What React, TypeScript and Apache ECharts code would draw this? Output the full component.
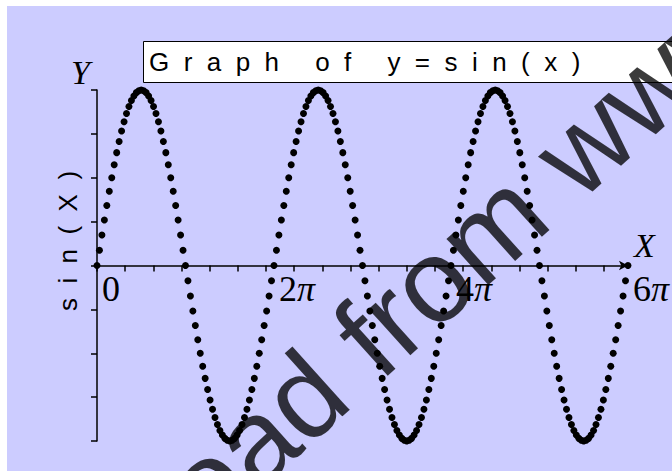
import React, { useEffect, useRef } from 'react';
import * as echarts from 'echarts';

// Sampling step of the plotted points, in degrees
const STEP_DEG = 5;

// y = sin(x), one point every 5 degrees from 0 to 6π
const yValues = [
  0, 0.087, 0.174, 0.259, 0.342, 0.423, 0.5, 0.574, 0.643, 0.707, 0.766, 0.819, 0.866, 0.906, 0.94, 0.966, 0.985, 0.996,
  1, 0.996, 0.985, 0.966, 0.94, 0.906, 0.866, 0.819, 0.766, 0.707, 0.643, 0.574, 0.5, 0.423, 0.342, 0.259, 0.174, 0.087,
  0, -0.087, -0.174, -0.259, -0.342, -0.423, -0.5, -0.574, -0.643, -0.707, -0.766, -0.819, -0.866, -0.906, -0.94, -0.966, -0.985, -0.996,
  -1, -0.996, -0.985, -0.966, -0.94, -0.906, -0.866, -0.819, -0.766, -0.707, -0.643, -0.574, -0.5, -0.423, -0.342, -0.259, -0.174, -0.087,
  0, 0.087, 0.174, 0.259, 0.342, 0.423, 0.5, 0.574, 0.643, 0.707, 0.766, 0.819, 0.866, 0.906, 0.94, 0.966, 0.985, 0.996,
  1, 0.996, 0.985, 0.966, 0.94, 0.906, 0.866, 0.819, 0.766, 0.707, 0.643, 0.574, 0.5, 0.423, 0.342, 0.259, 0.174, 0.087,
  0, -0.087, -0.174, -0.259, -0.342, -0.423, -0.5, -0.574, -0.643, -0.707, -0.766, -0.819, -0.866, -0.906, -0.94, -0.966, -0.985, -0.996,
  -1, -0.996, -0.985, -0.966, -0.94, -0.906, -0.866, -0.819, -0.766, -0.707, -0.643, -0.574, -0.5, -0.423, -0.342, -0.259, -0.174, -0.087,
  0, 0.087, 0.174, 0.259, 0.342, 0.423, 0.5, 0.574, 0.643, 0.707, 0.766, 0.819, 0.866, 0.906, 0.94, 0.966, 0.985, 0.996,
  1, 0.996, 0.985, 0.966, 0.94, 0.906, 0.866, 0.819, 0.766, 0.707, 0.643, 0.574, 0.5, 0.423, 0.342, 0.259, 0.174, 0.087,
  0, -0.087, -0.174, -0.259, -0.342, -0.423, -0.5, -0.574, -0.643, -0.707, -0.766, -0.819, -0.866, -0.906, -0.94, -0.966, -0.985, -0.996,
  -1, -0.996, -0.985, -0.966, -0.94, -0.906, -0.866, -0.819, -0.766, -0.707, -0.643, -0.574, -0.5, -0.423, -0.342, -0.259, -0.174, -0.087,
  0,
];

// x-axis ticks: every whole radian
const xTickValues = [0, 1, 2, 3, 4, 5, 6, 7, 8, 9, 10, 11, 12, 13, 14, 15, 16, 17, 18];
// x-axis labels: multiples of π
const xLabelMultiples = [0, 2, 4, 6];
const xLabelTexts = ['0', '2π', '4π', '6π'];
const X_MAX = 6 * Math.PI;
const Y_MIN = -1;
const Y_MAX = 1;

const NB = '\u00a0';
const spaced = (letters: string[], gap: number) => letters.join(NB.repeat(gap));

const titleText =
  spaced(['G', 'r', 'a', 'p', 'h'], 2) + NB.repeat(5) + spaced(['o', 'f'], 2) + NB.repeat(5) +
  spaced(['y', '=', 's', 'i', 'n', '(', 'x', ')'], 2);
const yNameText = spaced(['s', 'i', 'n'], 2) + NB.repeat(2) + spaced(['(', 'X', ')'], 2);
const watermarkText = 'Download from www.';

const SERIF = '"Liberation Serif", "DejaVu Serif", serif';
const SANS = '"Liberation Sans", Arial, sans-serif';

const W = 665;
const H = 465;
const GRID = { left: 90, right: 32, top: 84, bottom: 30 };

export default function App() {
  const ref = useRef<HTMLDivElement>(null);

  useEffect(() => {
    if (!ref.current) return;
    const chart = echarts.init(ref.current, undefined, { renderer: 'svg' });
    const data = yValues.map((y, i) => [(i * STEP_DEG * Math.PI) / 180, y]);
    const labelValues = xLabelMultiples.map((k) => k * Math.PI);
    // distance between the bottom of the grid and the y = 0 line
    const gridH = H - GRID.top - GRID.bottom;
    const zeroOffset = -gridH * ((0 - Y_MIN) / (Y_MAX - Y_MIN));

    const ang = (42 * Math.PI) / 180;
    const wmFont = 118;
    const offset = 3.612 * wmFont; // from text start to the centre of "a" in "Download"
    const aCx = 248;
    const aCy = 434;
    const wmX = aCx - offset * Math.cos(ang);
    const wmY = aCy + offset * Math.sin(ang);

    chart.setOption({
      animation: false,
      backgroundColor: '#ccccff',
      grid: GRID,
      xAxis: [
        {
          type: 'value',
          min: 0,
          max: X_MAX,
          interval: 1,
          position: 'bottom',
          name: 'X',
          nameLocation: 'end',
          nameGap: 0,
          nameTextStyle: {
            fontFamily: SERIF,
            fontStyle: 'italic',
            fontSize: 34,
            color: '#000',
            align: 'left',
            verticalAlign: 'bottom',
            padding: [0, 0, 3, 6],
          },
          axisLine: {
            show: true,
            onZero: true,
            symbol: ['none', 'arrow'],
            symbolSize: [7, 9],
            lineStyle: { color: '#000', width: 1.5 },
          },
          axisTick: {
            show: true,
            inside: false,
            length: 6,
            customValues: xTickValues,
            lineStyle: { color: '#000', width: 1.5 },
          },
          axisLabel: { show: false },
          splitLine: { show: false },
        },
        {
          type: 'value',
          min: 0,
          max: X_MAX,
          position: 'bottom',
          offset: zeroOffset,
          axisLine: { show: false, onZero: false },
          axisTick: { show: false },
          splitLine: { show: false },
          axisLabel: {
            show: true,
            customValues: labelValues,
            showMinLabel: true,
            showMaxLabel: true,
            margin: 5,
            align: 'left',
            padding: [0, 0, 0, 5],
            formatter: (v: number) => {
              let best = 0;
              labelValues.forEach((lv, i) => {
                if (Math.abs(lv - v) < Math.abs(labelValues[best] - v)) best = i;
              });
              const t = xLabelTexts[best];
              return t.endsWith('π') ? `{n|${t.slice(0, -1)}}{p|π}` : `{n|${t}}`;
            },
            rich: {
              n: { fontFamily: SERIF, fontSize: 36, color: '#000' },
              p: { fontFamily: SERIF, fontStyle: 'italic', fontSize: 36, color: '#000' },
            },
          },
        },
      ],
      yAxis: {
        type: 'value',
        min: Y_MIN,
        max: Y_MAX,
        interval: 0.25,
        name: 'Y',
        nameLocation: 'end',
        nameGap: 1,
        nameTextStyle: {
          fontFamily: SERIF,
          fontStyle: 'italic',
          fontSize: 34,
          color: '#000',
          align: 'right',
          verticalAlign: 'bottom',
          padding: [0, 7, 0, 0],
        },
        axisLine: { show: true, onZero: false, lineStyle: { color: '#000', width: 1.5 } },
        axisTick: { show: true, inside: false, length: 6, lineStyle: { color: '#000', width: 1.5 } },
        axisLabel: { show: false },
        splitLine: { show: false },
      },
      series: [
        {
          type: 'scatter',
          xAxisIndex: 0,
          data,
          symbol: 'circle',
          symbolSize: 7,
          itemStyle: { color: '#000', opacity: 1 },
          z: 5,
        },
      ],
      graphic: [
        {
          type: 'group',
          z: 20,
          children: [
            {
              type: 'rect',
              shape: { x: 136.5, y: 35.5, width: 560, height: 41 },
              style: { fill: '#fff', stroke: '#000', lineWidth: 1 },
            },
            {
              type: 'text',
              x: 142,
              y: 56,
              style: {
                text: titleText,
                fill: '#000',
                fontFamily: SANS,
                fontSize: 26,
                align: 'left',
                verticalAlign: 'middle',
                textAlign: 'left',
                textVerticalAlign: 'middle',
              },
            },
          ],
        },
        {
          type: 'text',
          x: 61,
          y: 235,
          rotation: Math.PI / 2,
          z: 20,
          style: {
            text: yNameText,
            fill: '#000',
            fontFamily: SANS,
            fontSize: 26,
            align: 'center',
            verticalAlign: 'middle',
            textAlign: 'center',
            textVerticalAlign: 'middle',
          },
        },
        {
          type: 'text',
          x: wmX,
          y: wmY,
          rotation: ang,
          z: 100,
          style: {
            text: watermarkText,
            fill: 'rgba(0,0,0,0.77)',
            fontFamily: SANS,
            fontSize: wmFont,
            align: 'left',
            verticalAlign: 'middle',
            textAlign: 'left',
            textVerticalAlign: 'middle',
          },
        },
      ],
    });

    return () => chart.dispose();
  }, []);

  return (
    <div
      ref={ref}
      style={{ position: 'absolute', left: 7, top: 6, width: W, height: H }}
    />
  );
}
